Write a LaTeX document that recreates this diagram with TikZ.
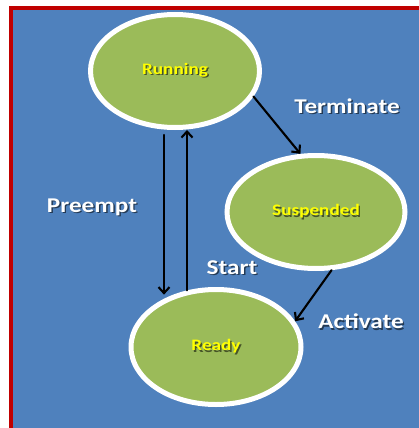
\documentclass[tikz,border=0pt]{standalone}
\usepackage{fontspec}
\setmainfont{Carlito}
\newfontfamily\widesans[FakeStretch=1.2]{Carlito}
\usetikzlibrary{shapes.geometric,arrows.meta}

\definecolor{panelblue}{HTML}{4F81BD}
\definecolor{stategreen}{HTML}{9BBB59}
\definecolor{framered}{HTML}{C00000}
\definecolor{stateyellow}{HTML}{FFFF00}
\colorlet{shadeblue}{black!55!panelblue}
\colorlet{shadegreen}{black!55!stategreen}

% text with a soft drop shadow below and to the right
\newcommand{\dropshadow}[2]{%
  \makebox[0pt][l]{\hspace{1.4pt}\raisebox{-1.4pt}{\textcolor{#1}{#2}}}#2}

\tikzset{
  state/.style={ellipse, draw=white, line width=5pt, fill=stategreen,
    inner sep=0pt, text=stateyellow,
    font=\widesans\bfseries\fontsize{16}{18}\selectfont},
  lbl/.style={text=white, inner sep=0pt,
    font=\widesans\bfseries\fontsize{21}{25}\selectfont},
  arr/.style={draw=black, line width=2.1pt, line cap=round,
    -{Straight Barb[length=6pt,width=11pt]}}
}

\begin{document}
\begin{tikzpicture}[x=1pt,y=-1pt]
  \useasboundingbox (0,0) rectangle (419,428);
  \clip (0,0) rectangle (419,428);
  \fill[white] (0,0) rectangle (419,428);

  % panel with its red frame
  \fill[panelblue] (11,8) rectangle (425,435);
  \draw[framered, line width=4pt] (11,435) -- (11,8) -- (425,8);

  % states
  \node[state, minimum width=169pt, minimum height=113pt] (run) at (175,71)
    {\dropshadow{shadegreen}{Running}};
  \node[state, minimum width=178pt, minimum height=113pt] (susp) at (316,212)
    {\dropshadow{shadegreen}{Suspended}};
  \node[state, minimum width=170pt, minimum height=115pt] (rdy) at (216,347)
    {\dropshadow{shadegreen}{Ready}};

  % transitions
  \draw[arr] (run.-18) -- (susp.105);
  \draw[arr] ([xshift=-11pt,yshift=-5pt]run.south)
          -- ([xshift=-11pt,yshift=4pt]run.south |- rdy.137);
  \draw[arr] ([xshift=12pt]run.south |- rdy.117) -- ([xshift=12pt]run.south);
  \draw[arr] (susp.-75) -- (rdy.18);

  % transition labels
  \node[lbl] (lterm) at (347,107) {\dropshadow{shadeblue}{Terminate}};
  \node[lbl] (lpre)  at (92,208)  {\dropshadow{shadeblue}{Preempt}};
  \node[lbl] (lstart) at (232,268) {\dropshadow{shadeblue}{Start}};
  \node[lbl] (lact)  at (361,322) {\dropshadow{shadeblue}{Activate}};
\end{tikzpicture}
\end{document}
